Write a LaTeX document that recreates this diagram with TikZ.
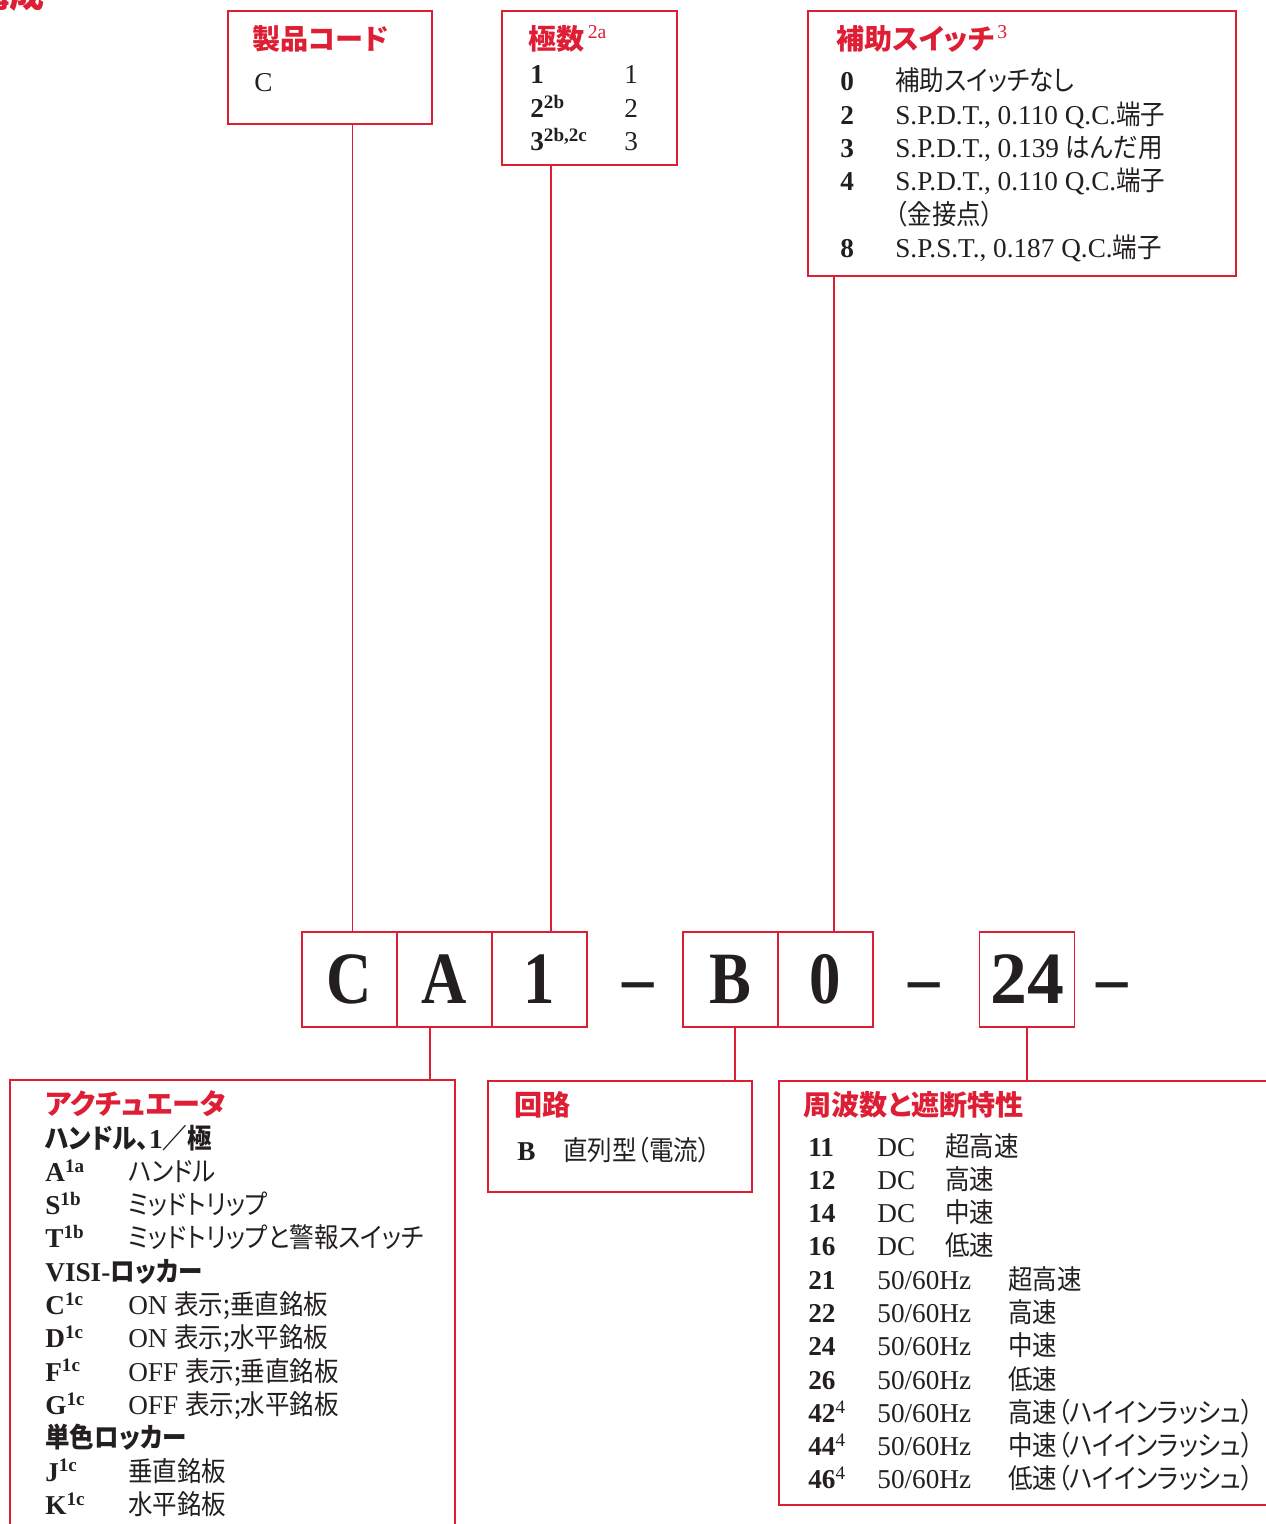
\documentclass[tikz,border=0pt]{standalone}
\usepackage{fontspec}
\usepackage{tikz}
\usetikzlibrary{positioning}
\setmainfont{Liberation Serif}
\newfontfamily\jp[RawFeature=+palt,FakeStretch=0.9]{Noto Sans CJK JP}
\newfontfamily\jpttl[RawFeature=+palt]{Noto Sans CJK JP}
\newfontfamily\codefont[FakeStretch=0.85]{Liberation Serif}
\newcommand\jt[1]{{\jp #1}}
\newcommand\dcspeed[1]{\makebox[38.7pt][l]{DC}\jt{#1}}
\newcommand\acspeed[1]{\makebox[74.6pt][l]{50/60Hz}\jt{#1}}
\definecolor{accent}{RGB}{222,30,52}
\definecolor{ink}{RGB}{35,31,32}
\tikzset{
  frame/.style={draw=accent,line width=0.8pt,inner sep=0pt,outer sep=0pt,anchor=north west},
  codebox/.style={draw=accent,line width=0.8pt,outer sep=0pt,inner sep=0pt,
    minimum width=1.9cm,minimum height=1.9cm,text=ink,
    font=\codefont\bfseries\fontsize{42}{42}\selectfont},
  dashtxt/.style={anchor=base,inner sep=0pt,text=ink,
    font=\codefont\bfseries\fontsize{42}{42}\selectfont},
  ttl/.style={anchor=base west,inner sep=0pt,text=accent,
    font=\jpttl\bfseries\fontsize{16}{19}\selectfont},
  rows/.style={anchor=base west,inner sep=0pt,text=ink,
    font=\fontsize{15.5}{18.95}\selectfont},
  link/.style={draw=accent,line width=0.8pt},
}

\begin{document}
\begin{tikzpicture}[x=0.02cm,y=-0.02cm]
  \useasboundingbox (0,0) rectangle (1266,1524);
  \node[ttl,anchor=base east,font=\jpttl\bfseries\fontsize{20}{22}\selectfont] (heading) at (45,8) {構成};

  % code row
  \node[codebox] (cC) at (349.5,979.5) {C};
  \node[codebox,right=0pt of cC] (cA) {A};
  \node[codebox,right=0pt of cA] (c1) {1};
  \node[dashtxt] (d1) at (638,1002) {–};
  \node[codebox] (cB) at (730.5,979.5) {B};
  \node[codebox,right=0pt of cB] (c0) {0};
  \node[dashtxt] (d2) at (924,1002) {–};
  \node[codebox,font=\bfseries\fontsize{42}{42}\selectfont] (c24) at (1027,979.5) {24};
  \node[dashtxt] (d3) at (1112,1002) {–};

  % upper boxes
  \node[frame,minimum width=4.08cm,minimum height=2.26cm] (seihin) at (228,11) {};
  \node[ttl] (t-seihin) at (252,50) {製品コード};
  \node[rows] (b-seihin) at (254,92) {C};

  \node[frame,minimum width=3.5cm,minimum height=3.08cm] (kyoku) at (502,11) {};
  \node[ttl] (t-kyoku) at (528,50) {極数\textsuperscript{\rmfamily\mdseries\,2a}};
  \node[rows] (b-kyoku) at (530,84) {\begin{tabular}[t]{@{}p{53.5pt}@{}l@{}}
    \textbf{1} & 1\\
    \textbf{2\textsuperscript{2b}} & 2\\
    \textbf{3\textsuperscript{2b,2c}} & 3
  \end{tabular}};

  \node[frame,minimum width=8.56cm,minimum height=5.3cm] (hojo) at (808,11) {};
  \node[ttl] (t-hojo) at (836,50) {補助スイッチ\textsuperscript{\rmfamily\mdseries\,3}};
  \node[rows] (b-hojo) at (840,91) {\begin{tabular}[t]{@{}p{31.3pt}@{}l@{}}
    \textbf{0} & \jt{補助スイッチなし}\\
    \textbf{2} & S.P.D.T., 0.110 Q.C.\jt{端子}\\
    \textbf{3} & S.P.D.T., 0.139 \jt{はんだ用}\\
    \textbf{4} & S.P.D.T., 0.110 Q.C.\jt{端子}\\
     & \jt{（金接点）}\\
    \textbf{8} & S.P.S.T., 0.187 Q.C.\jt{端子}
  \end{tabular}};

  % lower boxes
  \node[frame,minimum width=8.9cm,minimum height=9.4cm] (act) at (10,1080) {};
  \node[ttl] (t-act) at (45,1114) {アクチュエータ};
  \node[rows] (b-act) at (45,1148) {\begin{tabular}[t]{@{}p{47.2pt}@{}l@{}}
    \multicolumn{2}{@{}l@{}}{\bfseries\jt{ハンドル、}1\jt{／極}}\\
    \textbf{A\textsuperscript{1a}} & \jt{ハンドル}\\
    \textbf{S\textsuperscript{1b}} & \jt{ミッドトリップ}\\
    \textbf{T\textsuperscript{1b}} & \jt{ミッドトリップと警報スイッチ}\\
    \multicolumn{2}{@{}l@{}}{\bfseries VISI-\jt{ロッカー}}\\
    \textbf{C\textsuperscript{1c}} & ON \jt{表示;垂直銘板}\\
    \textbf{D\textsuperscript{1c}} & ON \jt{表示;水平銘板}\\
    \textbf{F\textsuperscript{1c}} & OFF \jt{表示;垂直銘板}\\
    \textbf{G\textsuperscript{1c}} & OFF \jt{表示;水平銘板}\\
    \multicolumn{2}{@{}l@{}}{\bfseries\jt{単色ロッカー}}\\
    \textbf{J\textsuperscript{1c}} & \jt{垂直銘板}\\
    \textbf{K\textsuperscript{1c}} & \jt{水平銘板}
  \end{tabular}};

  \node[frame,minimum width=5.28cm,minimum height=2.22cm] (kairo) at (488,1081) {};
  \node[ttl] (t-kairo) at (514,1115) {回路};
  \node[rows] (b-kairo) at (517,1160) {\begin{tabular}[t]{@{}p{26.2pt}@{}l@{}}
    \textbf{B} & \jt{直列型（電流）}
  \end{tabular}};

  \node[frame,minimum width=10.1cm,minimum height=8.48cm] (freq) at (779,1081) {};
  \node[ttl] (t-freq) at (803,1115) {周波数と遮断特性};
  \node[rows] (b-freq) at (808,1156) {\begin{tabular}[t]{@{}p{39.3pt}@{}l@{}}
    \textbf{11} & \dcspeed{超高速}\\
    \textbf{12} & \dcspeed{高速}\\
    \textbf{14} & \dcspeed{中速}\\
    \textbf{16} & \dcspeed{低速}\\
    \textbf{21} & \acspeed{超高速}\\
    \textbf{22} & \acspeed{高速}\\
    \textbf{24} & \acspeed{中速}\\
    \textbf{26} & \acspeed{低速}\\
    \textbf{42}\textsuperscript{4} & \acspeed{高速（ハイインラッシュ）}\\
    \textbf{44}\textsuperscript{4} & \acspeed{中速（ハイインラッシュ）}\\
    \textbf{46}\textsuperscript{4} & \acspeed{低速（ハイインラッシュ）}
  \end{tabular}};

  % connectors
  \draw[link] ([xshift=0.06cm]cC.north) -- ([xshift=0.06cm]cC.north |- seihin.south);
  \draw[link] ([xshift=0.23cm]c1.north) -- ([xshift=0.23cm]c1.north |- kyoku.south);
  \draw[link] ([xshift=0.17cm]c0.north) -- ([xshift=0.17cm]c0.north |- hojo.south);
  \draw[link] ([xshift=-0.29cm]cA.south) -- ([xshift=-0.29cm]cA.south |- act.north);
  \draw[link] ([xshift=0.09cm]cB.south) -- ([xshift=0.09cm]cB.south |- kairo.north);
  \draw[link] (c24.south) -- (c24.south |- freq.north);
\end{tikzpicture}
\end{document}
